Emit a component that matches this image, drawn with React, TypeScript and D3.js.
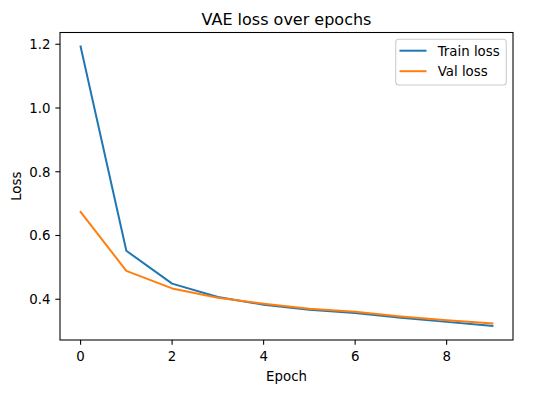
import React from "react";
import * as d3 from "d3";

// values
const epochs = [0, 1, 2, 3, 4, 5, 6, 7, 8, 9];
const trainLoss = [1.193, 0.552, 0.449, 0.407, 0.383, 0.367, 0.357, 0.342, 0.329, 0.316];
const valLoss = [0.674, 0.489, 0.434, 0.405, 0.386, 0.37, 0.361, 0.346, 0.334, 0.324];
const xTicks = [0, 2, 4, 6, 8];
const yTicks = [0.4, 0.6, 0.8, 1.0, 1.2];
const seriesNames = ["Train loss", "Val loss"];
const seriesColors = ["#1f77b4", "#ff7f0e"];

const W = 536;
const H = 393;
const left = 60;
const right = 513;
const top = 32.5;
const bottom = 340;
const font = "DejaVu Sans, sans-serif";

function App() {
  // matplotlib style 5% margins
  const xExt = d3.extent(epochs) as [number, number];
  const xPad = (xExt[1] - xExt[0]) * 0.05;
  const all = trainLoss.concat(valLoss);
  const yExt = d3.extent(all) as [number, number];
  const yPad = (yExt[1] - yExt[0]) * 0.05;

  const x = d3.scaleLinear().domain([xExt[0] - xPad, xExt[1] + xPad]).range([left, right]);
  const y = d3.scaleLinear().domain([yExt[0] - yPad, yExt[1] + yPad]).range([bottom, top]);

  const line = d3
    .line<number>()
    .x((d, i) => x(epochs[i]))
    .y((d) => y(d));

  const series = [trainLoss, valLoss];
  const tickLen = 4.67;

  return (
    <svg
      width={W}
      height={H}
      style={{ position: "absolute", left: 0, top: 0, background: "#fff" }}
      fontFamily={font}
    >
      <rect x={0} y={0} width={W} height={H} fill="#fff" />
      <text x={(left + right) / 2} y={24.5} textAnchor="middle" fontSize={16} fill="#000">
        VAE loss over epochs
      </text>

      {series.map((s, i) => (
        <path
          key={i}
          d={line(s) || ""}
          fill="none"
          stroke={seriesColors[i]}
          strokeWidth={2}
          strokeLinejoin="round"
          strokeLinecap="square"
        />
      ))}

      {/* spines */}
      <rect
        x={left}
        y={top}
        width={right - left}
        height={bottom - top}
        fill="none"
        stroke="#000"
        strokeWidth={1.07}
      />

      {xTicks.map((t) => (
        <g key={t} transform={`translate(${x(t)},${bottom})`}>
          <line y1={0} y2={tickLen} stroke="#000" strokeWidth={1.07} />
          <text y={21} textAnchor="middle" fontSize={13.33} fill="#000">
            {t}
          </text>
        </g>
      ))}
      {yTicks.map((t) => (
        <g key={t} transform={`translate(${left},${y(t)})`}>
          <line x1={0} x2={-tickLen} stroke="#000" strokeWidth={1.07} />
          <text x={-9.5} y={4.8} textAnchor="end" fontSize={13.33} fill="#000">
            {d3.format(".1f")(t)}
          </text>
        </g>
      ))}

      <text x={(left + right) / 2} y={381} textAnchor="middle" fontSize={13.33} fill="#000">
        Epoch
      </text>
      <text
        transform={`translate(20.5,${(top + bottom) / 2}) rotate(-90)`}
        textAnchor="middle"
        fontSize={13.33}
        fill="#000"
      >
        Loss
      </text>

      {/* legend */}
      <g>
        <rect
          x={395.7}
          y={39.3}
          width={110.6}
          height={45.7}
          rx={3}
          fill="#fff"
          fillOpacity={0.8}
          stroke="#cccccc"
          strokeWidth={1.07}
        />
        {seriesNames.map((n, i) => (
          <g key={n} transform={`translate(0,${50.7 + i * 20.5})`}>
            <line x1={399.5} x2={426.5} stroke={seriesColors[i]} strokeWidth={2} />
            <text x={437.7} y={4.8} fontSize={13.33} fill="#000">
              {n}
            </text>
          </g>
        ))}
      </g>
    </svg>
  );
}

export default App;
